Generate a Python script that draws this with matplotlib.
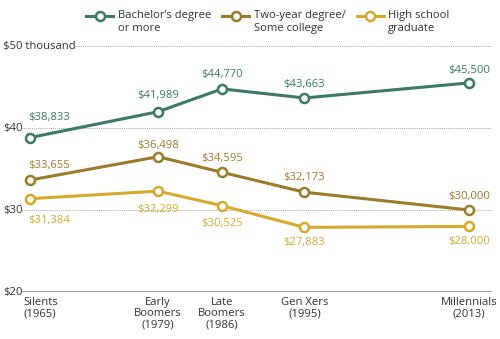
import numpy as np
import matplotlib
matplotlib.use("Agg")
import matplotlib.pyplot as plt
from matplotlib.legend_handler import HandlerLine2D
from matplotlib.transforms import blended_transform_factory

plt.rcParams["font.family"] = ["Open Sans", "DejaVu Sans"]

# median annual earnings by generation, in dollars
years = [1965, 1979, 1986, 1995, 2013]
generations = ["Silents\n(1965)", "Early\nBoomers\n(1979)", "Late\nBoomers\n(1986)",
               "Gen Xers\n(1995)", "Millennials\n(2013)"]
bachelors = [38833, 41989, 44770, 43663, 45500]
two_year = [33655, 36498, 34595, 32173, 30000]
high_school = [31384, 32299, 30525, 27883, 28000]

series_names = ["Bachelor\u2019s degree\nor more", "Two-year degree/\nSome college",
                "High school\ngraduate"]
colors = ["#3b7a66", "#9c7c2b", "#d6a92c"]
# label offsets in pixels (dx, dy) for each point
offsets = [
    [(-2, 20), (0, 16), (0, 14), (0, 13), (0, 12)],
    [(-2, 15), (0, 11), (0, 14), (0, 15), (0, 14)],
    [(-2, -22), (0, -18), (0, -18), (0, -15), (0, -15)],
]

ytick_vals = [20, 30, 40, 50]
ytick_text = ["$20", "$30", "$40", "$50 thousand"]


class FirstLineHandler(HandlerLine2D):
    # put the legend swatch next to the first line of a two-line label
    def create_artists(self, legend, orig_handle, xdescent, ydescent, width,
                       height, fontsize, trans):
        arts = super().create_artists(legend, orig_handle, xdescent, ydescent,
                                      width, height, fontsize, trans)
        for a in arts:
            a.set_ydata(np.asarray(a.get_ydata()) + fontsize * 0.6)
        return arts


fig = plt.figure(figsize=(5.0, 3.39), dpi=100)
ax = fig.add_axes([0.044, 0.1386, 0.94, 0.7257])
ax.set_xlim(1964.125, 2015.5)
ax.set_ylim(20, 50)

for v in [30, 40, 50]:
    start = 0.113 if v == 50 else 0.0
    ax.axhline(v, xmin=start, xmax=1, color="#8a8a8a", lw=0.6,
               ls=(0, (1, 1.3)), zorder=1)
ax.axhline(20, color="#9a9a9a", lw=1.3, zorder=1)

ylab_tr = blended_transform_factory(fig.transFigure, ax.transData)
for v, t in zip(ytick_vals, ytick_text):
    ax.text(3 / 500, v, t, transform=ylab_tr, ha="left", va="center",
            fontsize=8.1, color="#333333")

handles = []
for vals, name, col, offs in zip([bachelors, two_year, high_school],
                                 series_names, colors, offsets):
    k = np.array(vals) / 1000
    ln, = ax.plot(years, k, color=col, lw=2.2, marker="o", ms=6.5,
                  mfc="white", mec=col, mew=1.8, zorder=3, clip_on=False,
                  label=name)
    handles.append(ln)
    for i, (x, y, v) in enumerate(zip(years, k, vals)):
        dx, dy = offs[i]
        ax.annotate(f"${v:,}", (x, y), xytext=(dx, dy),
                    textcoords="offset pixels",
                    ha="left" if i == 0 else "center", va="center",
                    fontsize=8.1, color=col)

for i, (x, g) in enumerate(zip(years, generations)):
    ax.annotate(g, (x, 20), xytext=(-7 if i == 0 else 0, -5),
                textcoords="offset pixels", ha="left" if i == 0 else "center",
                va="top", multialignment="center" if i else "left",
                fontsize=8.1, color="#333333", linespacing=1.05)

leg = fig.legend(handles=handles, loc="upper left",
                 bbox_to_anchor=(0.152, 0.999), ncol=3, frameon=False,
                 fontsize=8.1, handlelength=2.4, handletextpad=0.4,
                 columnspacing=1.0, labelcolor="#333333",
                 handler_map={plt.Line2D: FirstLineHandler()})

for s in ax.spines.values():
    s.set_visible(False)
ax.set_xticks([])
ax.set_yticks([])

fig.savefig("out.png", dpi=100)
